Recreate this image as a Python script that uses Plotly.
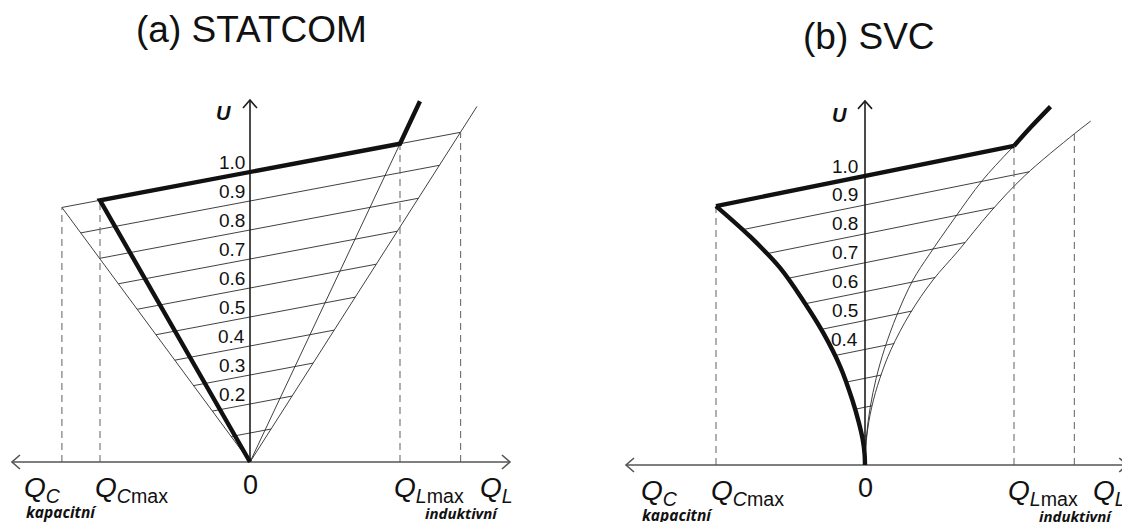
import numpy as np
import plotly.graph_objects as go

W, H = 1122, 522

# ---------------- (a) STATCOM ----------------
A_U_LEVELS = [0.1, 0.2, 0.3, 0.4, 0.5, 0.6, 0.7, 0.8, 0.9, 1.0]
A_TICK_VALUES = [0.2, 0.3, 0.4, 0.5, 0.6, 0.7, 0.8, 0.9, 1.0]
A_TICK_TEXT = ["0.2", "0.3", "0.4", "0.5", "0.6", "0.7", "0.8", "0.9", "1.0"]
A_GRID_SLOPE = 0.0975                   # dU/dQ of the system characteristics
A_CAP_LINE_END = (-1.254, 0.878)        # capacitive reactance line, outer end
A_IND_LINE_END = (1.513, 1.226)         # outer inductive reactance line, end
A_BOLD_Q = [0.0, -1.0, 1.0, 1.133]      # STATCOM V-Q characteristic
A_BOLD_U = [0.0, 0.9025, 1.0975, 1.244]
A_LIMIT_Q = [-1.254, -1.0, 1.0, 1.404]  # dashed limit markers
A_Q_AXIS = [-1.587, 1.733]
A_U_AXIS_TOP = 1.248

# ---------------- (b) SVC ----------------
B_U_LEVELS = [0.1, 0.2, 0.3, 0.4, 0.5, 0.6, 0.7, 0.8, 0.9]
B_TICK_VALUES = [0.4, 0.5, 0.6, 0.7, 0.8, 0.9, 1.0]
B_TICK_TEXT = ["0.4", "0.5", "0.6", "0.7", "0.8", "0.9", "1.0"]
B_GRID_SLOPE = 0.104
# capacitive limit (heavy curve)
B_CAP_U = [0.0, 0.04, 0.09, 0.15, 0.225, 0.339, 0.457, 0.565, 0.682, 0.79, 0.896]
B_CAP_Q = [0.0, -0.003, -0.016, -0.043, -0.085, -0.165, -0.28, -0.41, -0.57, -0.77, -1.0]
# inductive limit (thin up to Q_Lmax, heavy above it)
B_IND_U = [0.0, 0.1, 0.2, 0.3, 0.4, 0.52, 0.64, 0.727, 0.851, 0.986, 1.104]
B_IND_Q = [0.0, 0.01, 0.035, 0.075, 0.13, 0.215, 0.322, 0.43, 0.597, 0.79, 1.0]
B_IND_TOP_U = [1.104, 1.17, 1.24]
B_IND_TOP_Q = [1.0, 1.115, 1.245]
# outer inductive curve
B_OUT_U = [0.0, 0.1, 0.2, 0.3, 0.4, 0.524, 0.64, 0.74, 0.875, 1.0, 1.146, 1.19]
B_OUT_Q = [0.0, 0.012, 0.045, 0.1, 0.175, 0.302, 0.456, 0.624, 0.84, 1.07, 1.405, 1.515]
B_BOLD_Q = [-1.0, 1.0]
B_BOLD_U = [0.896, 1.104]
B_LIMIT_Q = [-1.0, 1.0, 1.405]
B_Q_AXIS = [-1.604, 1.76]
B_U_AXIS_TOP = 1.26

# ---------------- layout geometry ----------------
SPLIT = 560                     # pixel column between the two panels
A_ORIGIN, A_SCALE = (250, 462), (150, 290)
B_ORIGIN, B_SCALE = (865, 465), (149, 289)

A_XR = [(0 - A_ORIGIN[0]) / A_SCALE[0], (SPLIT - A_ORIGIN[0]) / A_SCALE[0]]
A_YR = [(A_ORIGIN[1] - H) / A_SCALE[1], A_ORIGIN[1] / A_SCALE[1]]
B_XR = [(SPLIT - B_ORIGIN[0]) / B_SCALE[0], (W - B_ORIGIN[0]) / B_SCALE[0]]
B_YR = [(B_ORIGIN[1] - H) / B_SCALE[1], B_ORIGIN[1] / B_SCALE[1]]

THIN = dict(color="#2b2b2b", width=0.9)
DASH = dict(color="#6f6f6f", width=1.1, dash="7px,5px")
BOLD = dict(color="#111111", width=4.4)
AXIS_V = dict(color="#1e1e1e", width=1.6)
AXIS_H = dict(color="#555555", width=1.6)

fig = go.Figure()


def add_line(xs, ys, line, axis, shape="linear"):
    xa, ya = ("x", "y") if axis == "a" else ("x2", "y2")
    fig.add_trace(go.Scatter(x=xs, y=ys, mode="lines", line=dict(shape=shape, **line),
                             hoverinfo="skip", showlegend=False, xaxis=xa, yaxis=ya))


def segments(pairs):
    xs, ys = [], []
    for (x0, y0), (x1, y1) in pairs:
        xs += [x0, x1, None]
        ys += [y0, y1, None]
    return xs, ys


def chevron(tip, direction, scale, length=8, half=7):
    sx, sy = scale
    tx, ty = tip
    if direction == "left":
        pts = [(tx + length / sx, ty + half / sy), (tx, ty), (tx + length / sx, ty - half / sy)]
    elif direction == "right":
        pts = [(tx - length / sx, ty + half / sy), (tx, ty), (tx - length / sx, ty - half / sy)]
    else:
        pts = [(tx - half / sx, ty - length / sy), (tx, ty), (tx + half / sx, ty - length / sy)]
    return [p[0] for p in pts], [p[1] for p in pts]


def draw_axes(axis, q_axis, u_top, scale):
    add_line(q_axis, [0, 0], AXIS_H, axis)
    for tip, d in (((q_axis[0], 0), "left"), ((q_axis[1], 0), "right")):
        xs, ys = chevron(tip, d, scale)
        add_line(xs, ys, AXIS_H, axis)
    add_line([0, 0], [0, u_top], AXIS_V, axis)
    xs, ys = chevron((0, u_top), "up", scale)
    add_line(xs, ys, AXIS_V, axis)


# ---------- panel (a) ----------
cap_s = A_CAP_LINE_END[1] / -A_CAP_LINE_END[0]
ind_s = A_IND_LINE_END[1] / A_IND_LINE_END[0]
grid = []
for u in A_U_LEVELS:
    ql = -u / (cap_s + A_GRID_SLOPE)
    qr = u / (ind_s - A_GRID_SLOPE)
    grid.append(((ql, u + A_GRID_SLOPE * ql), (qr, u + A_GRID_SLOPE * qr)))
add_line(*segments(grid), THIN, "a")
add_line([0, A_CAP_LINE_END[0]], [0, A_CAP_LINE_END[1]], THIN, "a")
add_line([0, A_IND_LINE_END[0]], [0, A_IND_LINE_END[1]], THIN, "a")
add_line([0, A_BOLD_Q[2]], [0, A_BOLD_U[2]], THIN, "a")
add_line(*segments([((q, 0), (q, 1.0 + A_GRID_SLOPE * q)) for q in A_LIMIT_Q]), DASH, "a")
draw_axes("a", A_Q_AXIS, A_U_AXIS_TOP, A_SCALE)
add_line(A_BOLD_Q, A_BOLD_U, BOLD, "a")

# ---------- panel (b) ----------
uf = np.linspace(0, 1.2, 4001)
cap_f = np.interp(uf, B_CAP_U, B_CAP_Q)
out_f = np.interp(uf, B_OUT_U, B_OUT_Q)


def crossing(qf, u):
    g = uf - (u + B_GRID_SLOPE * qf)
    i = np.where(np.diff(np.sign(g)) != 0)[0][-1]
    return float(qf[i]), float(uf[i])


grid = [(crossing(cap_f, u), crossing(out_f, u)) for u in B_U_LEVELS]
add_line(*segments(grid), THIN, "b")
add_line(B_IND_Q, B_IND_U, THIN, "b", shape="spline")
add_line(B_OUT_Q, B_OUT_U, THIN, "b", shape="spline")
add_line(*segments([((q, 0), (q, 1.0 + B_GRID_SLOPE * q)) for q in B_LIMIT_Q]), DASH, "b")
draw_axes("b", B_Q_AXIS, B_U_AXIS_TOP, B_SCALE)
add_line(B_CAP_Q, B_CAP_U, BOLD, "b", shape="spline")
add_line(B_BOLD_Q, B_BOLD_U, BOLD, "b")
add_line(B_IND_TOP_Q, B_IND_TOP_U, BOLD, "b", shape="spline")

# ---------- text ----------
FONT = "Liberation Sans, Arial, sans-serif"
ann = []


def text(axis, x, y, s, size, xanchor="center", yanchor="middle", family=FONT):
    xr, yr = ("x", "y") if axis == "a" else ("x2", "y2")
    ann.append(dict(x=x, y=y, xref=xr, yref=yr, text=s, showarrow=False,
                    xanchor=xanchor, yanchor=yanchor,
                    font=dict(family=family, size=size, color="#111111")))


for axis, vals, labs, scale, qx in (("a", A_TICK_VALUES, A_TICK_TEXT, A_SCALE, -0.02),
                                     ("b", B_TICK_VALUES, B_TICK_TEXT, B_SCALE, -0.033)):
    for v, s in zip(vals, labs):
        text(axis, qx, v + 10 / scale[1], s, 19, xanchor="right")

text("a", -0.175, A_U_AXIS_TOP - 0.045, "<b><i>U</i></b>", 20)
text("b", -0.17, B_U_AXIS_TOP - 0.05, "<b><i>U</i></b>", 20)

text("a", 0.01, 1.49, "(a) STATCOM", 37)
text("b", 0.03, 1.484, "(b) SVC", 37)

Q_LABELS = [(-1.52, "<i>Q</i><sub><i>C</i></sub>"), (-1.045, "<i>Q</i><sub><i>C</i>max</sub>"),
            (0.946, "<i>Q</i><sub><i>L</i>max</sub>"), (1.52, "<i>Q</i><sub><i>L</i></sub>")]
for axis, scale in (("a", A_SCALE), ("b", B_SCALE)):
    yl = -27 / scale[1]
    for q, s in Q_LABELS:
        text(axis, q, yl, s, 28, xanchor="left")
    text(axis, 0, -23 / scale[1], "0", 27)
    text(axis, -1.51, -50 / scale[1], "<b><i>kapacitní</i></b>", 15.5, xanchor="left",
         family="Open Sans, sans-serif")
    text(axis, 1.153, -51 / scale[1], "<b><i>induktivní</i></b>", 15, xanchor="left",
         family="Open Sans, sans-serif")

fig.update_layout(
    width=W, height=H, margin=dict(l=0, r=0, t=0, b=0),
    paper_bgcolor="white", plot_bgcolor="white", annotations=ann,
    xaxis=dict(domain=[0, SPLIT / W], range=A_XR, visible=False, fixedrange=True),
    yaxis=dict(domain=[0, 1], range=A_YR, visible=False, fixedrange=True),
    xaxis2=dict(domain=[SPLIT / W, 1], range=B_XR, visible=False, fixedrange=True, anchor="y2"),
    yaxis2=dict(domain=[0, 1], range=B_YR, visible=False, fixedrange=True, anchor="x2"),
)

fig.write_html("out.html")
